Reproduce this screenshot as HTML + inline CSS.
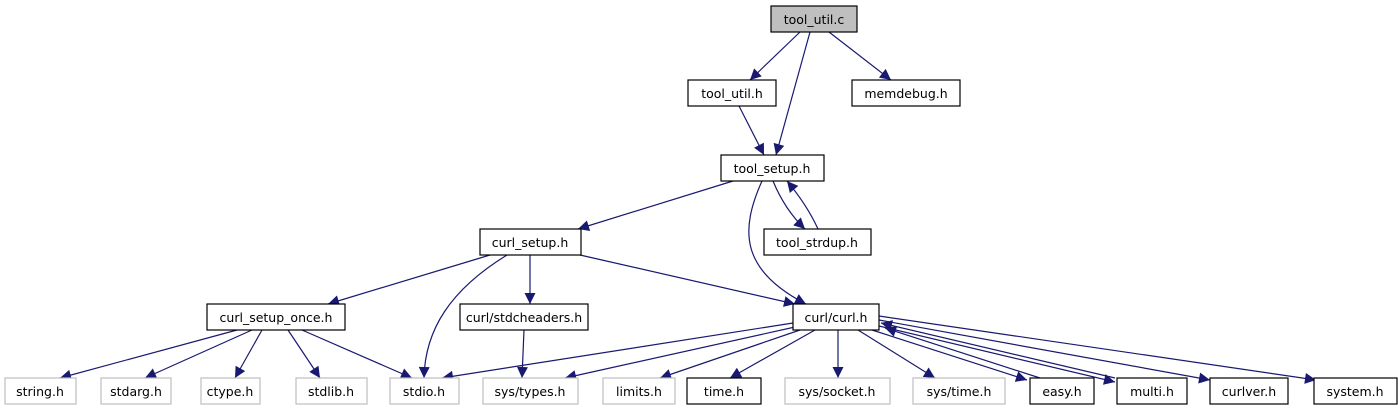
<!DOCTYPE html>
<html><head><meta charset="utf-8"><style>
html,body{margin:0;padding:0;background:#fff;width:1398px;height:411px;overflow:hidden}
text{font-family:"DejaVu Sans","Liberation Sans",sans-serif;font-size:12.5px;fill:#000}
</style></head><body>
<svg width="1398" height="411" viewBox="0 0 1398 411" xmlns="http://www.w3.org/2000/svg">
<defs><marker id="a" viewBox="0 0 10 10" refX="10" refY="5" markerWidth="15" markerHeight="11" markerUnits="userSpaceOnUse" orient="auto"><path d="M0,0 L10,5 L0,10 z" fill="#191970"/></marker></defs>
<g fill="none" stroke="#191970" stroke-width="1.2" marker-end="url(#a)">
<path d="M800,32 L750,80"/>
<path d="M810,32 L776,155"/>
<path d="M829,32 L891,80"/>
<path d="M739,106 L764,155"/>
<path d="M733,181 L578,229"/>
<path d="M773,181 Q785,210 805,229"/>
<path d="M818,229 Q807,205 787,181"/>
<path d="M762,181 C740,230 740,270 806,304"/>
<path d="M490,255 L328,304"/>
<path d="M507,255 C450,290 425,330 424,378"/>
<path d="M530,255 L530,304"/>
<path d="M580,255 L795,304"/>
<path d="M237,330 L60,378"/>
<path d="M252,330 L145,378"/>
<path d="M262,330 L235,378"/>
<path d="M288,330 L320,378"/>
<path d="M302,330 L412,378"/>
<path d="M524,330 L522,378"/>
<path d="M793,323 L442,378"/>
<path d="M795,327 L565,378"/>
<path d="M800,330 L660,378"/>
<path d="M815,330 L730,378"/>
<path d="M838,330 L838,378"/>
<path d="M858,330 L935,378"/>
<path d="M872,330 L1027,380"/>
<path d="M879,326 L1115,382"/>
<path d="M1115,378 L881,323"/>
<path d="M1040,378 L885,328"/>
<path d="M879,320 L1210,380"/>
<path d="M879,316 L1316,380"/>
</g>
<g stroke-width="1.2">
<rect x="771" y="6" width="86" height="26" fill="#bfbfbf" stroke="#000"/>
<g fill="#fff" stroke="#000">
<rect x="688" y="80" width="88" height="26"/>
<rect x="852" y="80" width="108" height="26"/>
<rect x="721" y="155" width="103" height="26"/>
<rect x="764" y="229" width="107" height="26"/>
<rect x="480" y="229" width="101" height="26"/>
<rect x="207" y="304" width="138" height="26"/>
<rect x="460" y="304" width="128" height="26"/>
<rect x="793" y="304" width="86" height="26"/>
<rect x="687" y="378" width="74" height="26"/>
<rect x="1030" y="378" width="64" height="26"/>
<rect x="1117" y="378" width="70" height="26"/>
<rect x="1210" y="378" width="78" height="26"/>
<rect x="1314" y="378" width="83" height="26"/>
</g>
<g fill="#fff" stroke="#bfbfbf">
<rect x="5" y="378" width="71" height="26"/>
<rect x="101" y="378" width="70" height="26"/>
<rect x="201" y="378" width="59" height="26"/>
<rect x="296" y="378" width="71" height="26"/>
<rect x="390" y="378" width="69" height="26"/>
<rect x="483" y="378" width="95" height="26"/>
<rect x="603" y="378" width="72" height="26"/>
<rect x="785" y="378" width="105" height="26"/>
<rect x="913" y="378" width="92" height="26"/>
</g>
</g>
<g text-anchor="middle">
<text x="814" y="24">tool_util.c</text>
<text x="732" y="98">tool_util.h</text>
<text x="906" y="98">memdebug.h</text>
<text x="772" y="173">tool_setup.h</text>
<text x="817" y="247">tool_strdup.h</text>
<text x="530" y="247">curl_setup.h</text>
<text x="276" y="322">curl_setup_once.h</text>
<text x="524" y="322">curl/stdcheaders.h</text>
<text x="836" y="322">curl/curl.h</text>
<text x="40" y="396">string.h</text>
<text x="136" y="396">stdarg.h</text>
<text x="230" y="396">ctype.h</text>
<text x="331" y="396">stdlib.h</text>
<text x="424" y="396">stdio.h</text>
<text x="530" y="396">sys/types.h</text>
<text x="639" y="396">limits.h</text>
<text x="724" y="396">time.h</text>
<text x="837" y="396">sys/socket.h</text>
<text x="959" y="396">sys/time.h</text>
<text x="1062" y="396">easy.h</text>
<text x="1152" y="396">multi.h</text>
<text x="1249" y="396">curlver.h</text>
<text x="1355" y="396">system.h</text>
</g>
</svg>
</body></html>
